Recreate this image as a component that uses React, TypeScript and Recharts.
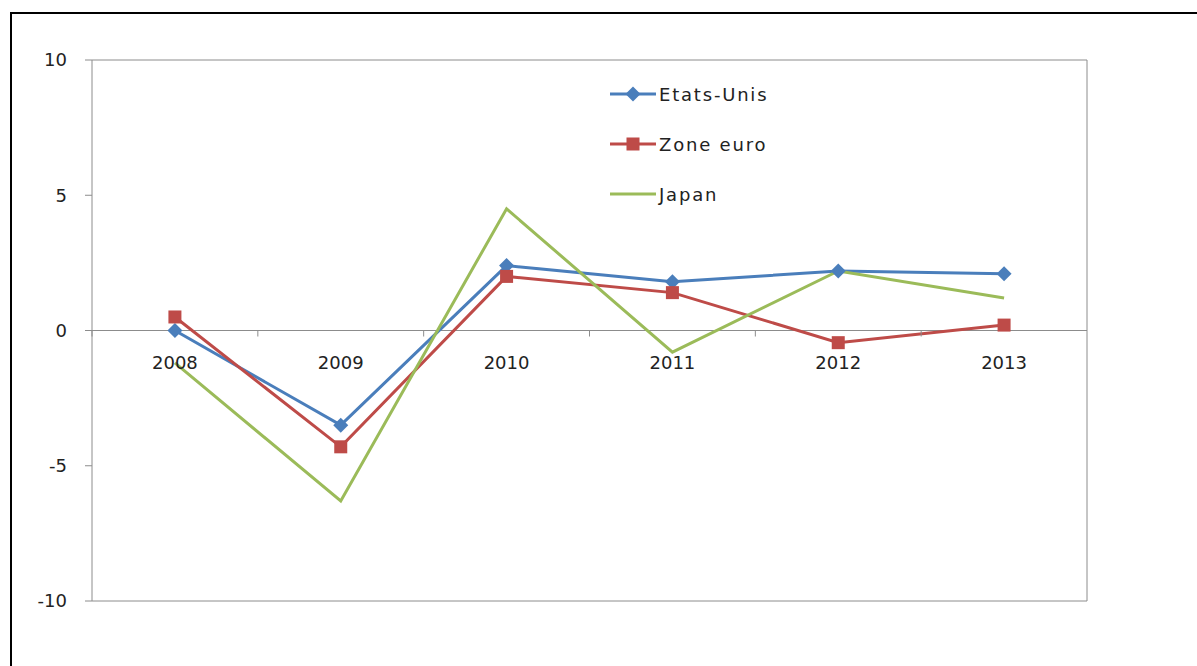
import { LineChart, Line, XAxis, YAxis, CartesianGrid, ReferenceLine } from "recharts";

const years = ["2008", "2009", "2010", "2011", "2012", "2013"];
const etatsUnis = [0, -3.5, 2.4, 1.8, 2.2, 2.1];
const zoneEuro = [0.5, -4.3, 2.0, 1.4, -0.45, 0.2];
const japan = [-1.2, -6.3, 4.5, -0.8, 2.2, 1.2];
const yTicks = [-10, -5, 0, 5, 10];

const data = years.map((year, i) => ({
  year,
  us: etatsUnis[i],
  euro: zoneEuro[i],
  japan: japan[i],
}));

const W = 1180;
const H = 660;
const M = { top: 46, right: 45, bottom: 0, left: 20 };
const Y_W = 60;
const X_H = 73;
const PLOT_W = W - M.left - M.right - 2 * Y_W;
const PLOT_H = H - M.top - M.bottom - X_H;
const BAND = PLOT_W / years.length;
const FONT = "'DejaVu Sans', sans-serif";

const BLUE = "#4A7EBB";
const RED = "#BE4B48";
const GREEN = "#9BBB59";
const GREY = "#8c8c8c";

const series = [
  { key: "us", name: "Etats-Unis", color: BLUE, marker: "diamond" },
  { key: "euro", name: "Zone euro", color: RED, marker: "square" },
  { key: "japan", name: "Japan", color: GREEN, marker: "none" },
];

function Marker({ cx, cy, type, color }: { cx: number; cy: number; type: string; color: string }) {
  if (type === "diamond") {
    const r = 7.5;
    return <path d={`M${cx},${cy - r}L${cx + r},${cy}L${cx},${cy + r}L${cx - r},${cy}Z`} fill={color} />;
  }
  if (type === "square") {
    const s = 6.5;
    return <rect x={cx - s} y={cy - s} width={s * 2} height={s * 2} fill={color} />;
  }
  return null;
}

// category labels sit just under the zero line, as in the original
function YearTick(props: any) {
  const { x, y, payload } = props;
  const zeroY = y - PLOT_H / 2;
  return (
    <g>
      <line x1={x - BAND / 2} x2={x - BAND / 2} y1={zeroY} y2={zeroY + 6} stroke={GREY} />
      <text x={x} y={zeroY + 38} textAnchor="middle" fontSize={18} fontFamily={FONT} fill="#222">
        {payload.value}
      </text>
    </g>
  );
}

function LegendBox() {
  return (
    <div
      style={{
        position: "absolute",
        left: 598,
        top: 55,
        fontFamily: FONT,
        fontSize: 18,
        color: "#222",
        pointerEvents: "none",
      }}
    >
      {series.map((s) => (
        <div key={s.key} style={{ height: 50, display: "flex", alignItems: "center" }}>
          <svg width={47} height={20} style={{ display: "block" }}>
            <line x1={0} x2={46} y1={10} y2={10} stroke={s.color} strokeWidth={3} />
            <Marker cx={23} cy={10} type={s.marker} color={s.color} />
          </svg>
          <span style={{ letterSpacing: 1.8, marginLeft: 2 }}>{s.name}</span>
        </div>
      ))}
    </div>
  );
}

export default function App() {
  return (
    <div
      style={{
        position: "fixed",
        left: 10,
        top: 12,
        width: 1300,
        height: 800,
        borderLeft: "2px solid #000",
        borderTop: "2px solid #000",
        background: "#fff",
      }}
    >
      <LineChart width={W} height={H} data={data} margin={M}>
        <CartesianGrid vertical={false} stroke={GREY} />
        <XAxis
          dataKey="year"
          height={X_H}
          axisLine={false}
          tickLine={false}
          tickSize={0}
          tickMargin={0}
          tick={<YearTick />}
          interval={0}
          padding={{ left: BAND / 2, right: BAND / 2 }}
        />
        <YAxis
          yAxisId="left"
          width={Y_W}
          domain={[-10, 10]}
          ticks={yTicks}
          axisLine={{ stroke: GREY }}
          tickLine={{ stroke: GREY }}
          tickSize={7}
          tickMargin={18}
          tick={{ fontSize: 18, fontFamily: FONT, fill: "#222" }}
        />
        <YAxis
          yAxisId="right"
          orientation="right"
          width={Y_W}
          domain={[-10, 10]}
          ticks={yTicks}
          axisLine={{ stroke: GREY }}
          tickLine={{ stroke: GREY }}
          tickSize={7}
          tickMargin={18}
          tick={{ fontSize: 18, fontFamily: FONT, fill: "#222", textAnchor: "start" }}
        />
        <ReferenceLine yAxisId="left" y={0} stroke={GREY} />
        {series.map((s) => (
          <Line
            key={s.key}
            yAxisId="left"
            type="linear"
            dataKey={s.key}
            name={s.name}
            stroke={s.color}
            strokeWidth={3}
            isAnimationActive={false}
            dot={(p: any) => (
              <Marker key={`${s.key}-${p.index}`} cx={p.cx} cy={p.cy} type={s.marker} color={s.color} />
            )}
            activeDot={false}
          />
        ))}
      </LineChart>
      <LegendBox />
    </div>
  );
}
